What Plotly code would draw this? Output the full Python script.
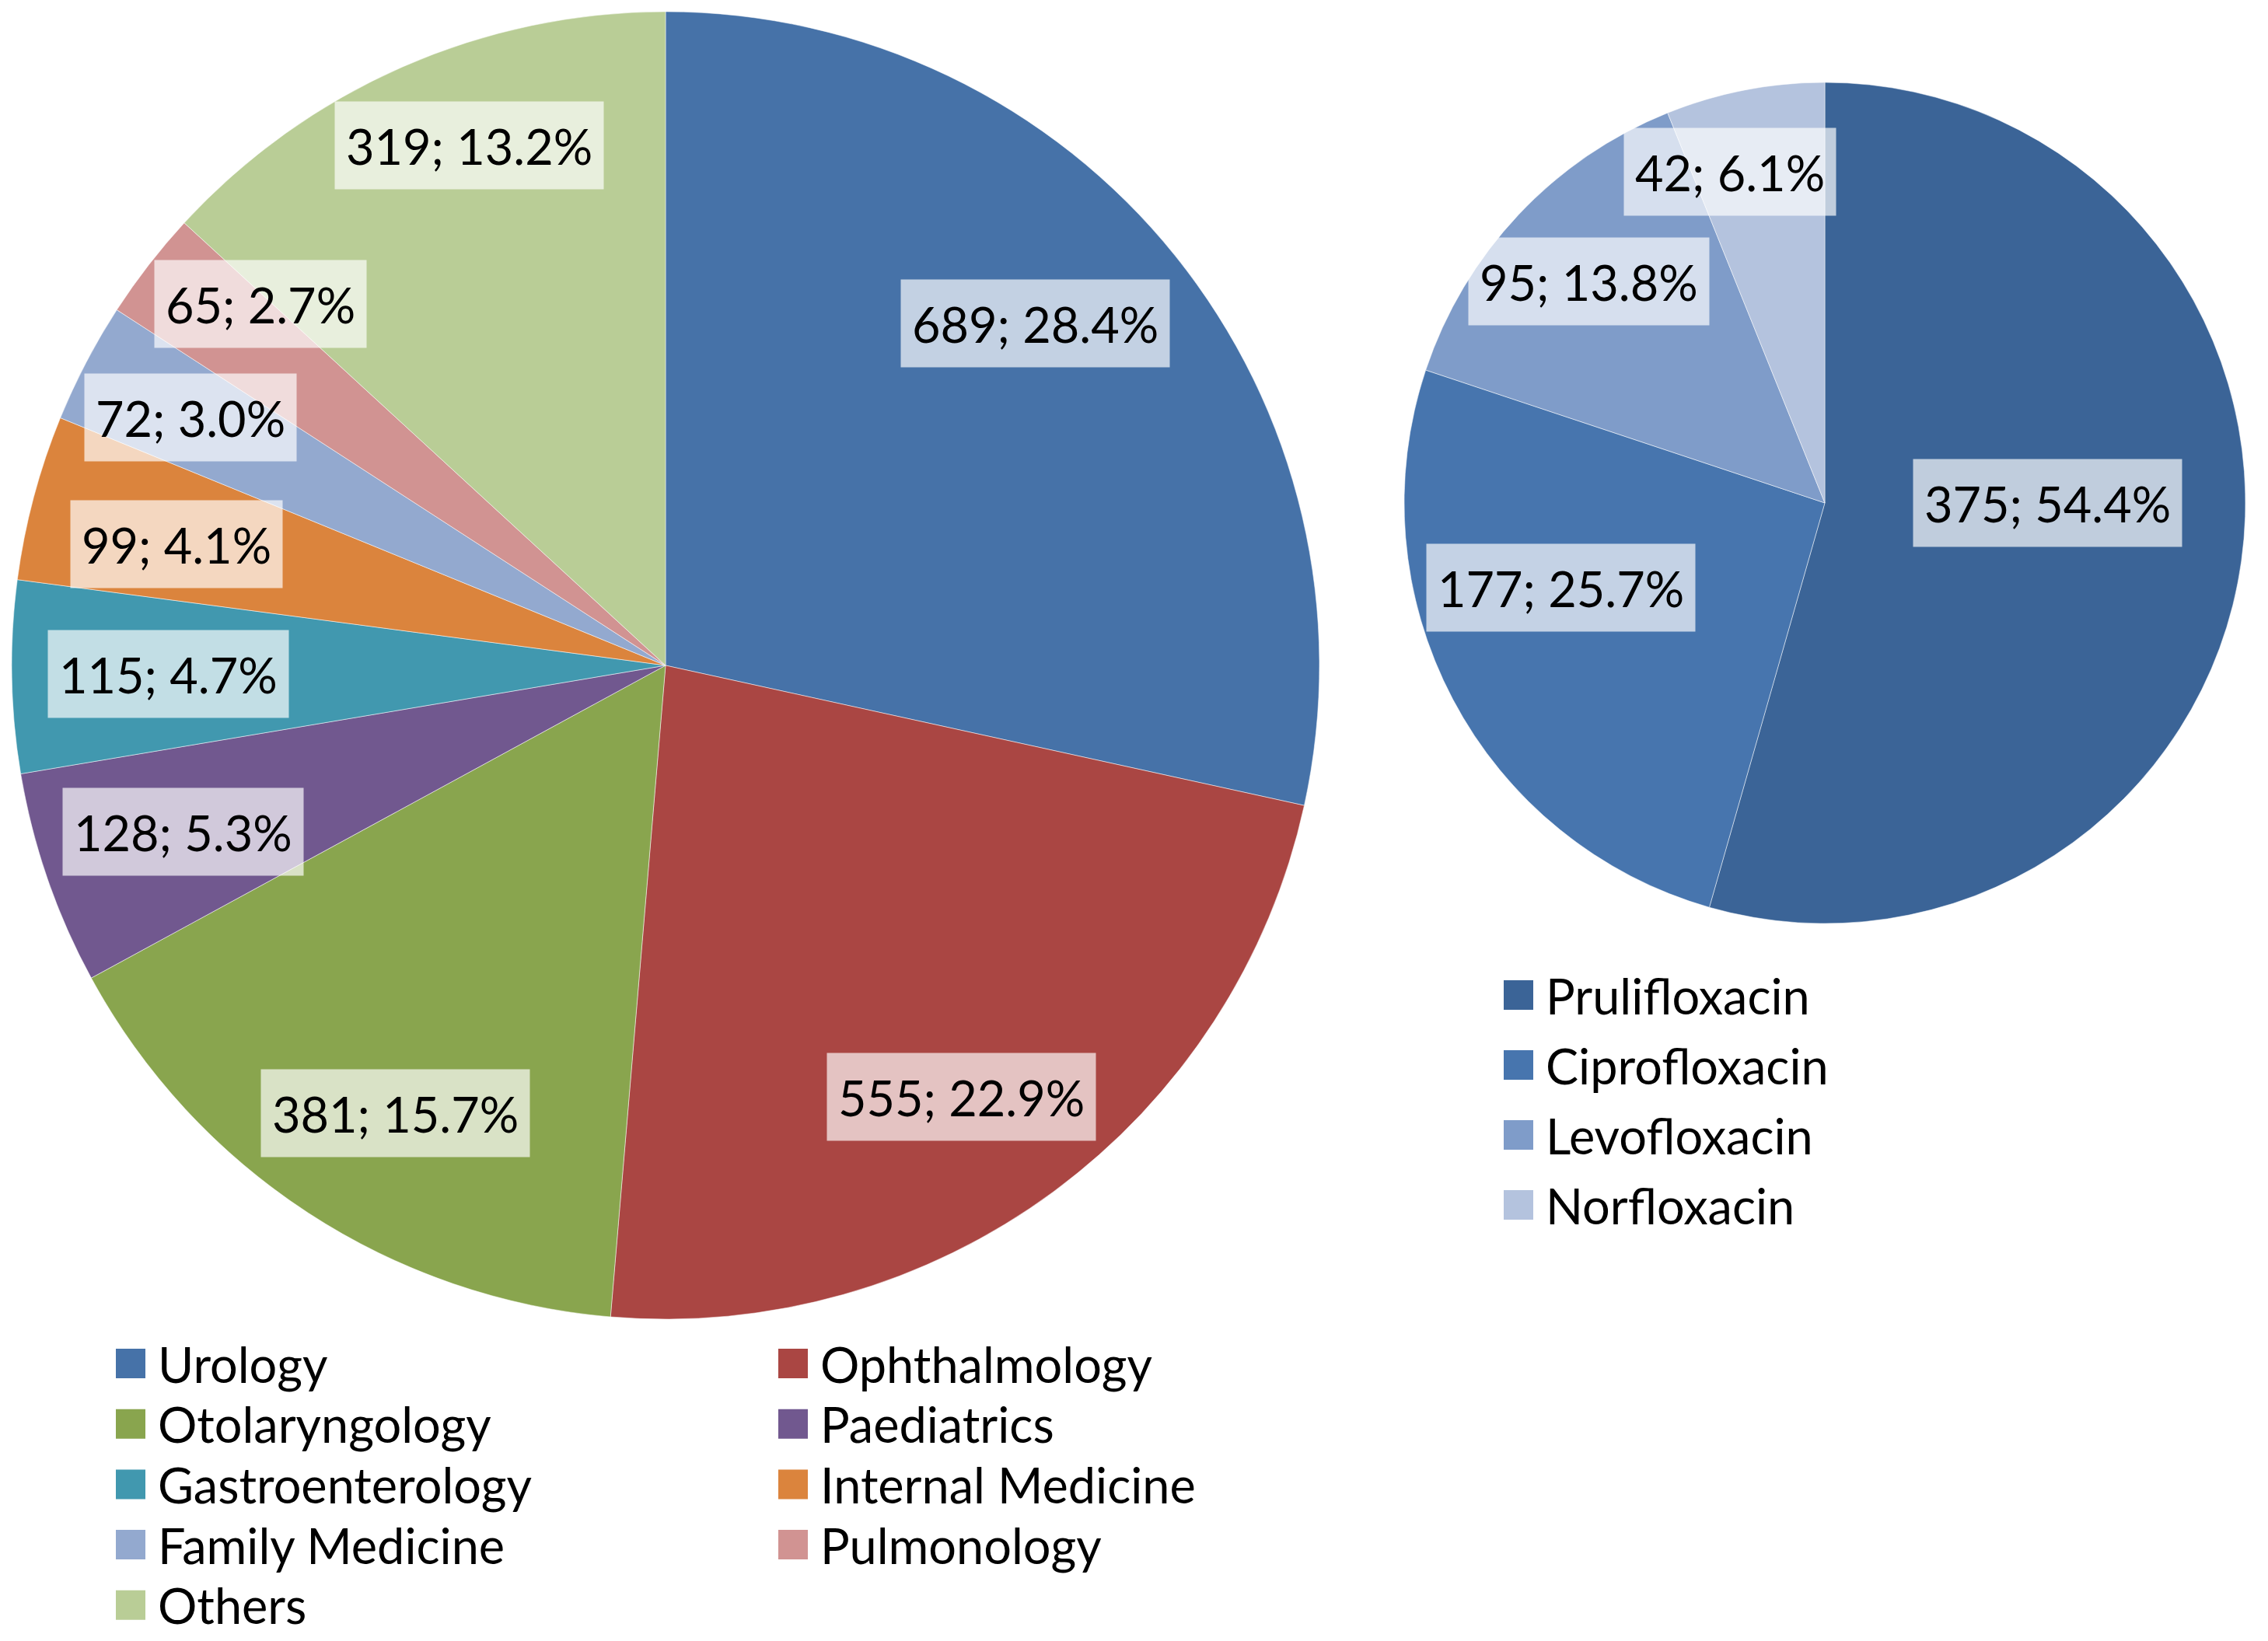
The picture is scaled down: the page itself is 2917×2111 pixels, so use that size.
import math

import plotly.graph_objects as go

# Left pie: prescriptions by department
departments = [
    "Urology", "Ophthalmology", "Otolaryngology", "Paediatrics", "Gastroenterology",
    "Internal Medicine", "Family Medicine", "Pulmonology", "Others",
]
department_counts = [689, 555, 381, 128, 115, 99, 72, 65, 319]
department_colors = [
    "#4672A8", "#AA4643", "#89A54E", "#71588F", "#4198AF",
    "#DB843D", "#93A9CF", "#D19392", "#B9CD96",
]

# Right pie: urology prescriptions by drug
drugs = ["Prulifloxacin", "Ciprofloxacin", "Levofloxacin", "Norfloxacin"]
drug_counts = [375, 177, 95, 42]
drug_colors = ["#3B6497", "#4775AE", "#7F9CC9", "#B4C3DE"]

# page body has an 8px margin, so the figure is a bit smaller than the window
PAGE_OFF = 8
W, H = 2917 - 2 * PAGE_OFF, 2111 - 2 * PAGE_OFF
FONT = "Lato"
FONT_SIZE = 63

# pie geometry in window pixels (centre x, centre y, radius)
LEFT_PIE = dict(cx=856, cy=856, r=841)
RIGHT_PIE = dict(cx=2347, cy=647, r=541)

# data label placement: (fraction of radius, angle nudge in degrees)
dept_label_pos = [
    (0.77, -4), (0.80, 2), (0.80, -2), (0.78, 0), (0.76, 0),
    (0.77, -1), (0.82, 0), (0.83, 4), (0.85, 3),
]
drug_label_pos = [(0.53, -8), (0.66, 10), (0.77, 0), (0.82, -5)]


def px(x):
    return (x - PAGE_OFF) / W


def py(y):
    return 1 - (y - PAGE_OFF) / H


def pie_domain(g):
    return dict(
        x=[px(g["cx"] - g["r"]), px(g["cx"] + g["r"])],
        y=[py(g["cy"] + g["r"]), py(g["cy"] - g["r"])],
    )


def slice_labels(counts, g, placement):
    """Boxed 'n; p%' labels at the middle of each slice."""
    total = sum(counts)
    out = []
    start = 0.0
    for v, (frac, nudge) in zip(counts, placement):
        share = v / total
        mid = math.radians((start + share / 2) * 360 + nudge)
        start += share
        x = g["cx"] + frac * g["r"] * math.sin(mid)
        y = g["cy"] - frac * g["r"] * math.cos(mid)
        out.append(dict(
            x=px(x), y=py(y), xref="paper", yref="paper",
            text=f"{v}; {share * 100:.1f}%", showarrow=False,
            xanchor="center", yanchor="middle",
            font=dict(family=FONT, size=FONT_SIZE, color="black"),
            bgcolor="rgba(255,255,255,0.68)", borderpad=14, height=84,
        ))
    return out


def legend_items(names, colors, x0, y0, col_step, row_step, ncols, box=38):
    shapes, notes = [], []
    for i, (name, col) in enumerate(zip(names, colors)):
        r, c = divmod(i, ncols)
        x = x0 + c * col_step
        y = y0 + r * row_step
        shapes.append(dict(
            type="rect", xref="paper", yref="paper",
            x0=px(x), x1=px(x + box), y0=py(y + box / 2), y1=py(y - box / 2),
            fillcolor=col, line=dict(width=0),
        ))
        notes.append(dict(
            x=px(x + box + 14), y=py(y), xref="paper", yref="paper",
            text=name, showarrow=False, xanchor="left", yanchor="middle",
            font=dict(family=FONT, size=FONT_SIZE, color="black"),
        ))
    return shapes, notes


fig = go.Figure()
fig.add_trace(go.Pie(
    labels=departments, values=department_counts, sort=False, direction="clockwise",
    marker=dict(colors=department_colors, line=dict(color="rgba(255,255,255,0.5)", width=1)),
    textinfo="none", hoverinfo="label+value+percent", domain=pie_domain(LEFT_PIE),
    showlegend=False,
))
fig.add_trace(go.Pie(
    labels=drugs, values=drug_counts, sort=False, direction="clockwise",
    marker=dict(colors=drug_colors, line=dict(color="rgba(255,255,255,0.5)", width=1)),
    textinfo="none", hoverinfo="label+value+percent", domain=pie_domain(RIGHT_PIE),
    showlegend=False,
))

annotations = slice_labels(department_counts, LEFT_PIE, dept_label_pos)
annotations += slice_labels(drug_counts, RIGHT_PIE, drug_label_pos)

s1, a1 = legend_items(departments, department_colors, 149, 1754, 852, 77.7, 2)
s2, a2 = legend_items(drugs, drug_colors, 1934, 1280, 0, 90, 1)

fig.update_layout(
    width=W, height=H,
    margin=dict(l=0, r=0, t=0, b=0),
    paper_bgcolor="white", plot_bgcolor="white",
    font=dict(family=FONT, size=FONT_SIZE, color="black"),
    shapes=s1 + s2,
    annotations=annotations + a1 + a2,
)

fig.write_html("out.html")
